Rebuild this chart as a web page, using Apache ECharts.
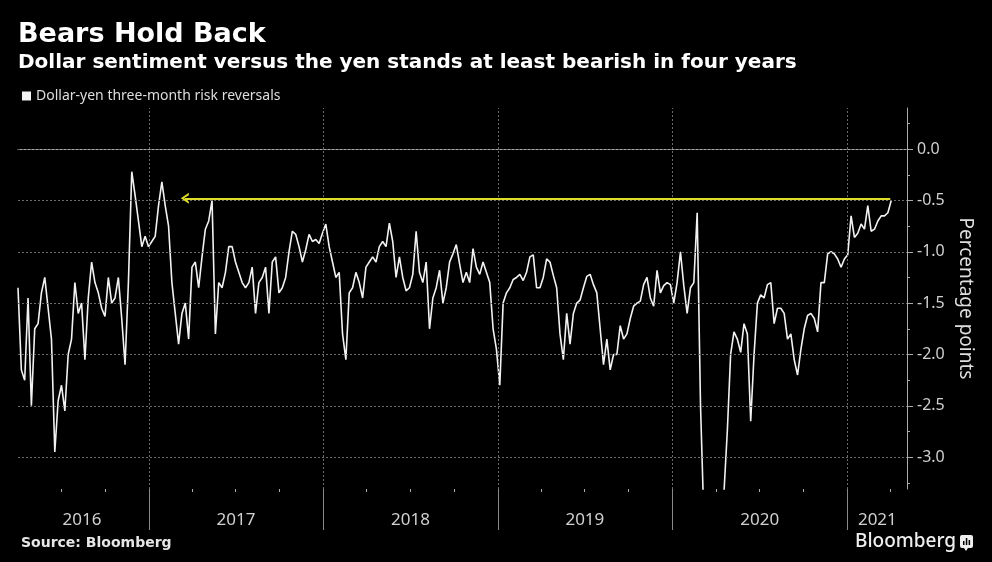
<!DOCTYPE html>
<html>
<head>
<meta charset="utf-8" />
<title>Bears Hold Back</title>
<script src="https://cdn.jsdelivr.net/npm/echarts@6/dist/echarts.min.js"></script>
<style>
  html, body { margin: 0; padding: 0; background: #000; }
  #chart { width: 992px; height: 562px; }
</style>
</head>
<body>
<div id="chart"></div>
<script>
// weekly readings, first one on startDate
var startDate = '2016-04-02';
var stepDays = 7;
var riskReversals = [
  -1.35, -2.15, -2.25, -1.45, -2.5, -1.75, -1.7, -1.4, -1.25, -1.55,
  -1.85, -2.95, -2.45, -2.3, -2.55, -2.0, -1.85, -1.3, -1.6, -1.5,
  -2.05, -1.45, -1.1, -1.3, -1.4, -1.55, -1.63, -1.25, -1.5, -1.45,
  -1.25, -1.65, -2.1, -1.3, -0.22, -0.45, -0.7, -0.95, -0.85, -0.95,
  -0.9, -0.85, -0.55, -0.32, -0.55, -0.75, -1.3, -1.6, -1.9, -1.6,
  -1.5, -1.85, -1.15, -1.1, -1.35, -1.05, -0.78, -0.7, -0.5, -1.8,
  -1.3, -1.35, -1.2, -0.95, -0.95, -1.1, -1.2, -1.3, -1.35, -1.3,
  -1.15, -1.6, -1.3, -1.25, -1.15, -1.6, -1.1, -1.05, -1.4, -1.35,
  -1.25, -1.0, -0.8, -0.83, -0.95, -1.1, -0.98, -0.83, -0.9, -0.88,
  -0.92, -0.82, -0.73, -0.95, -1.1, -1.25, -1.2, -1.8, -2.05, -1.4,
  -1.35, -1.2, -1.3, -1.45, -1.15, -1.1, -1.05, -1.1, -0.95, -0.9,
  -0.95, -0.72, -0.9, -1.25, -1.05, -1.25, -1.38, -1.35, -1.22, -0.8,
  -1.2, -1.3, -1.1, -1.75, -1.45, -1.35, -1.18, -1.5, -1.35, -1.1,
  -1.02, -0.93, -1.12, -1.3, -1.2, -1.3, -0.97, -1.15, -1.22, -1.1,
  -1.2, -1.3, -1.75, -1.95, -2.3, -1.5, -1.4, -1.35, -1.27, -1.25,
  -1.22, -1.28, -1.2, -1.05, -1.03, -1.35, -1.35, -1.25, -1.07, -1.1,
  -1.23, -1.35, -1.8, -2.05, -1.6, -1.9, -1.6, -1.5, -1.47, -1.35,
  -1.24, -1.22, -1.32, -1.4, -1.75, -2.1, -1.85, -2.15, -2.0, -2.0,
  -1.72, -1.85, -1.8, -1.65, -1.53, -1.5, -1.48, -1.32, -1.25, -1.45,
  -1.53, -1.18, -1.4, -1.33, -1.3, -1.32, -1.5, -1.3, -1.0, -1.33,
  -1.6, -1.35, -1.3, -0.62, -2.5, -3.6, -3.9, -4.2, -4.0, -3.8,
  -3.6, -3.35, -2.75, -2.0, -1.78, -1.85, -1.98, -1.7, -1.8, -2.65,
  -2.0, -1.5, -1.42, -1.45, -1.32, -1.3, -1.7, -1.55, -1.55, -1.6,
  -1.85, -1.8, -2.05, -2.2, -1.95, -1.75, -1.62, -1.6, -1.65, -1.78,
  -1.3, -1.3, -1.02, -1.0, -1.02, -1.07, -1.15, -1.07, -1.03, -0.65,
  -0.86, -0.82, -0.73, -0.78, -0.55, -0.8, -0.78, -0.7, -0.65, -0.65,
  -0.62, -0.5
];

var axisStart = '2016-04-02', axisEnd = '2021-05-06';
var yearStarts = ['2017-01-01', '2018-01-01', '2019-01-01', '2020-01-01', '2021-01-01'];
var yearLabelAt = ['2016-08-14', '2017-07-02', '2018-07-02', '2019-07-02', '2020-07-02', '2021-03-05'];
var quarterTicks = [
  '2016-07-01', '2016-10-01', '2017-04-01', '2017-07-01', '2017-10-01',
  '2018-04-01', '2018-07-01', '2018-10-01', '2019-04-01', '2019-07-01', '2019-10-01',
  '2020-04-01', '2020-07-01', '2020-10-01', '2021-04-01'
];
var yMin = -3.31, yMax = 0.4;
var yTicks = [-3, -2.5, -2, -1.5, -1, -0.5, 0];
var yMinorTicks = [-3.25, -2.75, -2.25, -1.75, -1.25, -0.75, -0.25, 0.25];

// yellow arrow annotation
var arrowLevel = -0.48, arrowFrom = '2017-03-17', arrowTo = '2021-04-01';

var seriesName = 'Dollar-yen three-month risk reversals';

function ts(d) { return Date.parse(d); }

var t0 = ts(startDate);
var lineData = riskReversals.map(function (v, i) {
  return [t0 + i * stepDays * 86400000, v];
});

var chevron = 'path://M5.5,0 L11,8 L8.6,8 L5.5,3.2 L2.4,8 L0,8 Z';

var logo = [{
  type: 'text',
  left: 855, top: 532,
  style: { text: 'Bloomberg', fill: '#eee', font: '500 19px "Noto Sans"' }
}, {
  type: 'group',
  left: 960, top: 535,
  children: [
    { type: 'rect', shape: { x: 0, y: 0, width: 13, height: 13, r: 2 }, style: { fill: '#eee' } },
    { type: 'polygon', shape: { points: [[4, 13], [8, 13], [6, 16]] }, style: { fill: '#eee' } },
    { type: 'rect', shape: { x: 3, y: 6, width: 1.5, height: 4 }, style: { fill: '#000' } },
    { type: 'rect', shape: { x: 5.8, y: 3, width: 1.5, height: 7 }, style: { fill: '#000' } },
    { type: 'rect', shape: { x: 8.6, y: 5, width: 1.5, height: 5 }, style: { fill: '#000' } }
  ]
}];

var myChart = echarts.init(document.getElementById('chart'));
var option = {
  backgroundColor: '#000',
  animation: false,
  title: [{
    text: 'Bears Hold Back',
    left: 18, top: 21, padding: 0,
    textStyle: { color: '#fff', fontSize: 27, fontWeight: 'bold', fontFamily: 'DejaVu Sans' }
  }, {
    text: 'Dollar sentiment versus the yen stands at least bearish in four years',
    left: 18, top: 53, padding: 0,
    textStyle: { color: '#fff', fontSize: 20, fontWeight: 'bold', fontFamily: 'DejaVu Sans' }
  }, {
    text: 'Source: Bloomberg',
    left: 21, top: 536, padding: 0,
    textStyle: { color: '#e6e6e6', fontSize: 14, fontWeight: 'bold', fontFamily: 'DejaVu Sans' }
  }],
  legend: {
    data: [seriesName],
    left: 22, top: 89, padding: 0,
    icon: 'rect', itemWidth: 9, itemHeight: 9,
    textStyle: { color: '#ddd', fontSize: 14, fontFamily: 'Noto Sans' }
  },
  grid: { left: 18, right: 85, top: 108, bottom: 73 },
  xAxis: {
    type: 'value',
    min: ts(axisStart), max: ts(axisEnd),
    axisLine: { show: true, lineStyle: { color: '#aaa', width: 1 } },
    axisTick: { show: false },
    axisLabel: {
      customValues: yearLabelAt.map(ts),
      formatter: function (v) { return String(new Date(v).getUTCFullYear()); },
      color: '#d0d0d0', fontSize: 17, fontFamily: 'Noto Sans', margin: 23
    },
    splitLine: { show: false }
  },
  yAxis: {
    type: 'value',
    position: 'right',
    min: yMin, max: yMax,
    axisLine: { show: true, lineStyle: { color: '#aaa' } },
    axisTick: { show: false },
    axisLabel: {
      customValues: yTicks,
      formatter: function (v) { return v.toFixed(1); },
      color: '#d0d0d0', fontSize: 16, fontFamily: 'Noto Sans', margin: 10
    },
    splitLine: { show: false },
    name: 'Percentage points',
    nameLocation: 'middle',
    nameRotate: -90,
    nameGap: 46,
    nameTextStyle: { color: '#ddd', fontSize: 19, fontFamily: 'Noto Sans' }
  },
  series: [{
    // dotted grid
    type: 'line',
    data: [],
    silent: true,
    z: 1,
    markLine: {
      silent: true,
      symbol: 'none',
      label: { show: false },
      lineStyle: { color: '#6a6a6a', type: [2, 2], width: 1 },
      data: yTicks.map(function (v) { return { yAxis: v }; })
        .concat(yearStarts.map(function (d) { return { xAxis: ts(d) }; }))
    }
  }, {
    name: seriesName,
    type: 'line',
    data: lineData,
    showSymbol: false,
    z: 3,
    lineStyle: { color: '#f2f2f2', width: 1.6 },
    itemStyle: { color: '#f2f2f2' },
    markLine: {
      silent: true,
      label: { show: false },
      lineStyle: { color: '#dede2a', width: 2.2, type: 'solid' },
      data: [[
        { coord: [ts(arrowFrom), arrowLevel], symbol: chevron, symbolSize: [11, 8] },
        { coord: [ts(arrowTo), arrowLevel], symbol: 'none' }
      ]]
    }
  }],
  graphic: logo
};
myChart.setOption(option);

// axis ticks: year separators, quarter ticks, y ticks, placed with the chart's own scales
var axisY = myChart.convertToPixel({ yAxisIndex: 0 }, yMin);
var axisX = myChart.convertToPixel({ xAxisIndex: 0 }, ts(axisEnd));
var ticks = [];
function tickLine(x1, y1, x2, y2, color) {
  ticks.push({
    type: 'line', silent: true,
    shape: { x1: x1, y1: y1, x2: x2, y2: y2 },
    style: { stroke: color, lineWidth: 1 }
  });
}
yearStarts.forEach(function (d) {
  var x = Math.round(myChart.convertToPixel({ xAxisIndex: 0 }, ts(d))) + 0.5;
  tickLine(x, axisY, x, axisY + 41, '#888');
});
quarterTicks.forEach(function (d) {
  var x = Math.round(myChart.convertToPixel({ xAxisIndex: 0 }, ts(d))) + 0.5;
  tickLine(x, axisY, x, axisY + 3, '#aaa');
});
yTicks.forEach(function (v) {
  var y = Math.round(myChart.convertToPixel({ yAxisIndex: 0 }, v)) + 0.5;
  tickLine(axisX, y, axisX + 6, y, '#aaa');
});
yMinorTicks.forEach(function (v) {
  var y = Math.round(myChart.convertToPixel({ yAxisIndex: 0 }, v)) + 0.5;
  tickLine(axisX, y, axisX + 3, y, '#aaa');
});
myChart.setOption({ graphic: logo.concat(ticks) });
</script>
</body>
</html>
